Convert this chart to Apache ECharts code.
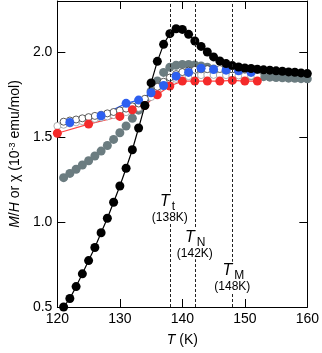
<!DOCTYPE html>
<html><head><meta charset="utf-8">
<script src="https://cdn.jsdelivr.net/npm/echarts@6/dist/echarts.min.js"></script>
<style>html,body{margin:0;padding:0;background:#fff}#c{width:322px;height:353px}</style>
</head><body><div id="c"></div>
<script>
const tempsBlack=[121,122,123,124,125,126,127,128,129,130,131,132,133,134,135,136,137,138,139,140,141,142,143,144,145,146,147,148,149,150,151,152,153,154,155,156,157,158,159,160];
const blackVals=[0.50,0.55,0.62,0.695,0.773,0.85,0.937,1.022,1.116,1.212,1.316,1.425,1.553,1.685,1.818,1.945,2.045,2.108,2.137,2.133,2.104,2.065,2.033,2.0,1.971,1.947,1.932,1.92,1.912,1.906,1.903,1.899,1.895,1.893,1.889,1.887,1.883,1.881,1.877,1.873];
const tempsGray=[121,122,123,124,125,126,127,128,129,130,131,132,133,134,135,136,137,138,139,140,141,142,143,144,145,146,147,148,149,150,151,152,153,154,155,156,157,158,159,160];
const grayVals=[1.261,1.286,1.31,1.335,1.36,1.388,1.417,1.45,1.486,1.525,1.565,1.61,1.658,1.71,1.77,1.83,1.88,1.91,1.922,1.927,1.927,1.924,1.918,1.91,1.9,1.89,1.882,1.875,1.87,1.865,1.861,1.858,1.855,1.852,1.85,1.848,1.846,1.845,1.843,1.842];
const tempsOpenDark=[121,122,123,124,125,126,127,128,129,130,131,132,133,134,135,136,137,138,139,140,141,142,143,144,145,146,147,148,149,150,151,152];
const openDarkVals=[1.59,1.597,1.603,1.61,1.617,1.624,1.631,1.639,1.647,1.656,1.667,1.68,1.697,1.725,1.76,1.795,1.825,1.85,1.87,1.882,1.89,1.895,1.898,1.899,1.9,1.9,1.899,1.898,1.897,1.896,1.895,1.894];
const tempsOpenLight=[120,121,122,123,124,125,126,127,128,129,130,131,132,133,134,135,136,137,138,139,140,141,142,143,144,145,146,147,148,149,150,151,152];
const openLightVals=[1.565,1.572,1.579,1.586,1.593,1.6,1.607,1.614,1.621,1.629,1.637,1.646,1.657,1.672,1.7,1.735,1.77,1.80,1.825,1.842,1.852,1.858,1.862,1.864,1.865,1.865,1.865,1.864,1.863,1.862,1.861,1.86,1.86];
const tempsBlue=[122,127,131,133,135,137,139,141,143,145,147,149,151];
const blueVals=[1.585,1.625,1.698,1.717,1.76,1.803,1.858,1.88,1.905,1.897,1.893,1.889,1.88];
const tempsRed=[120,125,130,132,134,136,138,140,142,144,146,148,150,152];
const redVals=[1.522,1.576,1.621,1.66,1.686,1.748,1.80,1.829,1.829,1.829,1.829,1.833,1.829,1.829];
const transitionTemps=[138,142,148];
const transitionSubs=['t','N','M'];
const transitionLabels=['(138K)','(142K)','(148K)'];
const labelLevels=[1.024,0.816,0.619];
const xTicks=[120,130,140,150,160];
const yTicks=[0.5,1.0,1.5,2.0];

const FONT='Liberation Sans';
const zip=(a,b)=>a.map((t,i)=>[t,b[i]]);
const chart=echarts.init(document.getElementById('c'),null,{renderer:'canvas'});
const axisCommon={
  axisLine:{show:true,onZero:false,lineStyle:{color:'#000',width:1}},
  axisTick:{show:true,inside:true,length:8,lineStyle:{color:'#000',width:1}},
  splitLine:{show:false}
};
const option={
  animation:false,
  backgroundColor:'#fff',
  grid:{left:54,right:11,top:1,bottom:46,containLabel:false},
  xAxis:[
    Object.assign({type:'value',min:xTicks[0],max:xTicks[xTicks.length-1],interval:10,position:'bottom',
      name:'{i|T} (K)',nameLocation:'middle',nameGap:26,
      nameTextStyle:{fontFamily:FONT,fontSize:14,color:'#000',rich:{i:{fontStyle:'italic',fontFamily:FONT,fontSize:14,color:'#000'}}},
      axisLabel:{margin:5,fontFamily:FONT,fontSize:14,color:'#000'}},axisCommon),
    Object.assign({type:'value',min:xTicks[0],max:xTicks[xTicks.length-1],interval:10,position:'top',axisLabel:{show:false}},axisCommon)
  ],
  yAxis:[
    Object.assign({type:'value',min:yTicks[0],max:2.3,interval:0.5,position:'left',
      name:'{i|M}/{i|H} or χ (10{s|-3} emu/mol)',nameLocation:'middle',nameGap:34,nameRotate:90,
      nameTextStyle:{fontFamily:FONT,fontSize:14,color:'#000',rich:{i:{fontStyle:'italic',fontFamily:FONT,fontSize:14,color:'#000'},s:{fontFamily:FONT,fontSize:9,color:'#000',verticalAlign:'top',lineHeight:14}}},
      axisLabel:{margin:5,fontFamily:FONT,fontSize:14,color:'#000',showMaxLabel:false,formatter:v=>v.toFixed(1)}},axisCommon),
    Object.assign({type:'value',min:yTicks[0],max:2.3,interval:0.5,position:'right',axisLabel:{show:false}},axisCommon)
  ],
  series:[
    {type:'line',data:zip(tempsOpenLight,openLightVals),symbol:'circle',symbolSize:7,
      itemStyle:{color:'#fff',borderColor:'#9a9a9a',borderWidth:0.8},lineStyle:{color:'#aaa',width:0.8}},
    {type:'scatter',data:zip(tempsGray,grayVals),symbol:'circle',symbolSize:9,itemStyle:{color:'#6b7c80',opacity:1}},
    {type:'line',data:zip(tempsOpenDark,openDarkVals),symbol:'circle',symbolSize:7,
      itemStyle:{color:'#fff',borderColor:'#333',borderWidth:0.8},lineStyle:{color:'#111',width:1}},
    {type:'line',data:zip(tempsRed,redVals),symbol:'circle',symbolSize:9,
      itemStyle:{color:'#f42a2a'},lineStyle:{color:'#f44',width:1.2}},
    {type:'line',data:zip(tempsBlue,blueVals),symbol:'circle',symbolSize:9,
      itemStyle:{color:'#2d5ff0'},lineStyle:{color:'#2d5ff0',width:1.2}},
    {type:'line',data:zip(tempsBlack,blackVals),symbol:'circle',symbolSize:9,
      itemStyle:{color:'#000'},lineStyle:{color:'#000',width:1.2},
      markLine:{silent:true,symbol:'none',label:{show:false},animation:false,
        lineStyle:{color:'#222',type:[3,2],width:1},
        data:transitionTemps.map(t=>({xAxis:t}))}}
  ]
};
chart.setOption(option);
const g=[];
transitionTemps.forEach((t,i)=>{
  const p=chart.convertToPixel({xAxisIndex:0,yAxisIndex:0},[t,labelLevels[i]]);
  g.push({type:'rect',shape:{x:p[0]-17,y:p[1]-25,width:34,height:31},style:{fill:'#fff'},z:99});
  g.push({type:'text',x:p[0],y:p[1],style:{text:transitionLabels[i],fontFamily:FONT,fontSize:12,fill:'#000',align:'center',verticalAlign:'middle'},z:100});
  g.push({type:'text',x:p[0]-5,y:p[1]-16,style:{text:'T',fontFamily:FONT,fontSize:16,fontStyle:'italic',fill:'#000',align:'center',verticalAlign:'middle'},z:100});
  g.push({type:'text',x:p[0]+2,y:p[1]-11,style:{text:transitionSubs[i],fontFamily:FONT,fontSize:12,fill:'#000',align:'left',verticalAlign:'middle'},z:100});
});
chart.setOption({graphic:g});
</script></body></html>
